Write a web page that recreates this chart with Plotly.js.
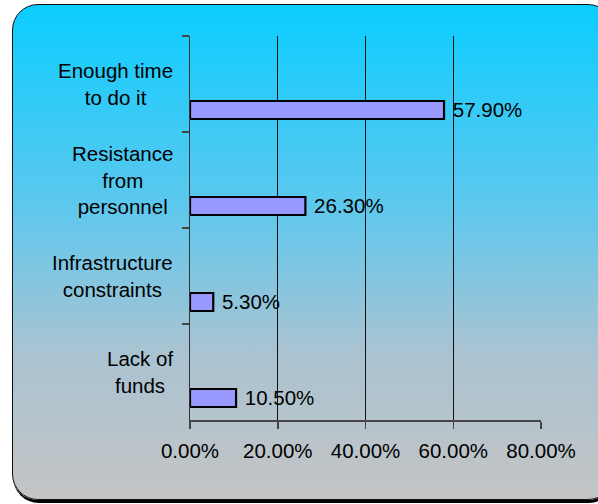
<!DOCTYPE html>
<html>
<head>
<meta charset="utf-8">
<script src="https://cdn.plot.ly/plotly-3.0.1.min.js"></script>
<style>
  html, body { margin: 0; padding: 0; width: 598px; height: 504px; overflow: hidden; background: #ffffff; }
  #frame {
    position: absolute; left: 12px; top: 4px; width: 600px; height: 494px;
    border: 1.5px solid #111; border-radius: 26px;
    background: linear-gradient(to bottom, #0bcdff 0%, #5cc8ee 40%, #a9c3d2 70%, #c4c4c4 100%);
    box-shadow: 1px 3px 0 #000;
  }
  #chart { position: absolute; left: 0; top: 0; width: 598px; height: 504px; }
</style>
</head>
<body>
<div id="frame"></div>
<div id="chart"></div>
<script>
  const categories = ["Enough time to do it", "Resistance from personnel", "Infrastructure constraints", "Lack of funds"];
  const categoryLabels = ["Enough time<br>to do it", "Resistance<br>from<br>personnel", "Infrastructure<br>constraints", "Lack of<br>funds"];
  const values = [57.9, 26.3, 5.3, 10.5];
  const xTicks = [0, 20, 40, 60, 80];

  const font = { family: "Liberation Sans, Arial, sans-serif", size: 20.5, color: "#000" };

  const trace = {
    type: "bar",
    orientation: "h",
    y: categories,
    x: values,
    width: 0.1875,
    offset: 0.177,
    marker: { color: "#9999ff", line: { color: "#000", width: 2.2 } },
    text: values.map(v => " " + v.toFixed(2) + "%"),
    textposition: "outside",
    constraintext: "none",
    cliponaxis: false,
    textfont: font,
    hoverinfo: "skip"
  };

  const annotations = categories.map((c, i) => ({
    xref: "paper", yref: "y",
    x: 0, y: c,
    xanchor: "right", yanchor: "middle",
    xshift: -15,
    align: "center",
    text: categoryLabels[i],
    showarrow: false,
    font: font
  }));

  const layout = {
    width: 598, height: 504,
    margin: { l: 190, r: 57, t: 36, b: 84 },
    paper_bgcolor: "rgba(0,0,0,0)",
    plot_bgcolor: "rgba(0,0,0,0)",
    showlegend: false,
    bargap: 0,
    font: font,
    xaxis: {
      range: [0, 80],
      tickvals: xTicks,
      ticktext: xTicks.map(v => v.toFixed(2) + "%"),
      showgrid: true, gridcolor: "#111", gridwidth: 1,
      zeroline: false,
      showline: true, linecolor: "#444", linewidth: 1.5,
      ticks: "outside", ticklen: 7, tickcolor: "#444", tickwidth: 1.5,
      ticklabelstandoff: 5,
      tickfont: font,
      fixedrange: true
    },
    yaxis: {
      type: "category",
      categoryorder: "array",
      categoryarray: categories,
      autorange: "reversed",
      showticklabels: false,
      tickson: "boundaries",
      ticks: "outside", ticklen: 7, tickcolor: "#444", tickwidth: 1.5,
      showgrid: false,
      zeroline: false,
      showline: true, linecolor: "#333", linewidth: 1.5,
      fixedrange: true
    },
    annotations: annotations
  };

  Plotly.newPlot("chart", [trace], layout, { displayModeBar: false, staticPlot: true });
</script>
</body>
</html>
